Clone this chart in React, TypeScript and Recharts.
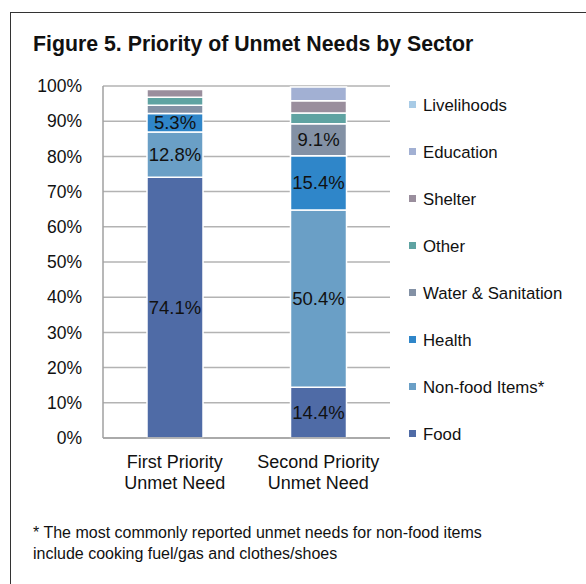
import React from "react";
import { BarChart, Bar, XAxis, YAxis, CartesianGrid, LabelList } from "recharts";

const categories = ["First Priority|Unmet Need", "Second Priority|Unmet Need"];
const sectors = ["Food", "Non-food Items*", "Health", "Water & Sanitation", "Other", "Shelter", "Education", "Livelihoods"];
const food = [74.1, 14.4];
const nonFood = [12.8, 50.4];
const health = [5.3, 15.4];
const waterSanitation = [2.3, 9.1];
const other = [2.3, 3.0];
const shelter = [2.2, 3.5];
const education = [0, 3.9];
const livelihoods = [0, 0];
const yTicks = [0, 10, 20, 30, 40, 50, 60, 70, 80, 90, 100];
const title = "Figure 5. Priority of Unmet Needs by Sector";
const footnote = [
  "* The most commonly reported unmet needs for non-food items",
  "include cooking fuel/gas and clothes/shoes",
];

const seriesValues = [food, nonFood, health, waterSanitation, other, shelter, education, livelihoods];
const colors = ["#4f6ba6", "#6a9fc6", "#2f86c9", "#8391a5", "#5fa3a2", "#9a8e9d", "#a2b0d3", "#a8cbe6"];
const keys = sectors.map((_, i) => "s" + i);

const data = categories.map((c, ci) => {
  const row: any = { name: c };
  keys.forEach((k, si) => (row[k] = seriesValues[si][ci]));
  return row;
});

const FONT = "'Liberation Sans', Arial, sans-serif";

const renderLabel = (props: any) => {
  const { x, y, width, height, value } = props;
  if (value == null || value < 4) return null;
  return (
    <text
      x={Number(x) + Number(width) / 2}
      y={Number(y) + Number(height) / 2}
      textAnchor="middle"
      dominantBaseline="central"
      fontSize={18.5}
      fontFamily={FONT}
      fill="#111"
    >
      {value.toFixed(1)}%
    </text>
  );
};

const CatTick = (props: any) => {
  const { x, y, payload } = props;
  const lines = String(payload.value).split("|");
  return (
    <g>
      {lines.map((l, i) => (
        <text key={i} x={x} y={y + 22 + i * 21} textAnchor="middle" fontSize={18} fontFamily={FONT} fill="#111">
          {l}
        </text>
      ))}
    </g>
  );
};

export default function App() {
  const legendOrder = sectors.map((s, i) => ({ s, c: colors[i] })).reverse();
  return (
    <div style={{ position: "absolute", left: 0, top: 0, width: 586, height: 584, overflow: "hidden", background: "#fff", fontFamily: FONT }}>
      <div style={{ position: "absolute", left: 10, top: 12, width: 700, height: 700, border: "1.5px solid #333" }} />
      <div style={{ position: "absolute", left: 33, top: 32, fontSize: 21.3, fontWeight: "bold", color: "#111", whiteSpace: "nowrap" }}>
        {title}
      </div>
      <div style={{ position: "absolute", left: 0, top: 0 }}>
        <BarChart width={586} height={584} data={data} margin={{ top: 86, right: 196, bottom: 96, left: 0 }} barSize={56}>
          <CartesianGrid vertical={false} stroke="#b3b3b3" strokeWidth={1.5} />
          <XAxis dataKey="name" height={50} axisLine={{ stroke: "#a0a0a0", strokeWidth: 1.5 }} tickLine={false} tick={<CatTick />} interval={0} />
          <YAxis
            width={103}
            domain={[0, 100]}
            ticks={yTicks}
            tickFormatter={(v: number) => v + "%"}
            axisLine={{ stroke: "#a0a0a0", strokeWidth: 1.5 }}
            tickLine={false}
            tickSize={0}
            tickMargin={21}
            tick={{ fontSize: 17.5, fontFamily: FONT, fill: "#111" }}
            interval={0}
          />
          {keys.map((k, i) => (
            <Bar key={k} dataKey={k} stackId="a" fill={colors[i]} stroke="#ffffff" strokeWidth={1.5} isAnimationActive={false}>
              <LabelList dataKey={k} content={renderLabel} />
            </Bar>
          ))}
        </BarChart>
      </div>
      {legendOrder.map((it, i) => (
        <div key={it.s} style={{ position: "absolute", left: 409, top: 106 + i * 47 - 10, height: 20, display: "flex", alignItems: "center", whiteSpace: "nowrap" }}>
          <span style={{ display: "inline-block", width: 7, height: 7, background: it.c, marginRight: 7, marginTop: -3 }} />
          <span style={{ fontSize: 16.8, color: "#111" }}>{it.s}</span>
        </div>
      ))}
      <div style={{ position: "absolute", left: 33, top: 522, fontSize: 16, color: "#111", lineHeight: "21px", whiteSpace: "nowrap" }}>
        {footnote.map((f, i) => (
          <div key={i}>{f}</div>
        ))}
      </div>
    </div>
  );
}
